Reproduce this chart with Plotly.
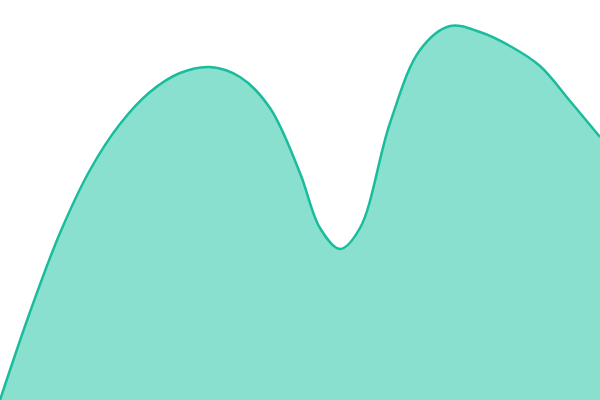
import plotly.graph_objects as go

# heights of the curve above the bottom edge, read across the reference
xs = [0, 30, 60, 90, 120, 150, 180, 210, 240, 270, 300,
      320, 340, 360, 390, 420, 450, 480, 510, 540, 570, 600]
heights = [0, 88, 167, 230, 276, 308, 327, 333, 323, 292, 227,
           172, 151, 172, 277, 350, 374, 368, 354, 334, 299, 263]

fig = go.Figure(
    go.Scatter(
        x=xs,
        y=heights,
        mode="lines",
        line=dict(color="#1abc9c", width=2.5, shape="spline", smoothing=1.0),
        fill="tozeroy",
        fillcolor="#8ae0cf",
        hoverinfo="skip",
    )
)
fig.update_layout(
    width=600,
    height=400,
    margin=dict(l=0, r=0, t=0, b=0),
    paper_bgcolor="white",
    plot_bgcolor="white",
    showlegend=False,
    xaxis=dict(range=[0, 600], visible=False),
    yaxis=dict(range=[0, 400], visible=False),
)
# the page body has a default 8px margin; drop it so the plot fills the window
fig.write_html(
    "out.html",
    config={"displayModeBar": False},
    post_script="document.body.style.margin='0';",
)
